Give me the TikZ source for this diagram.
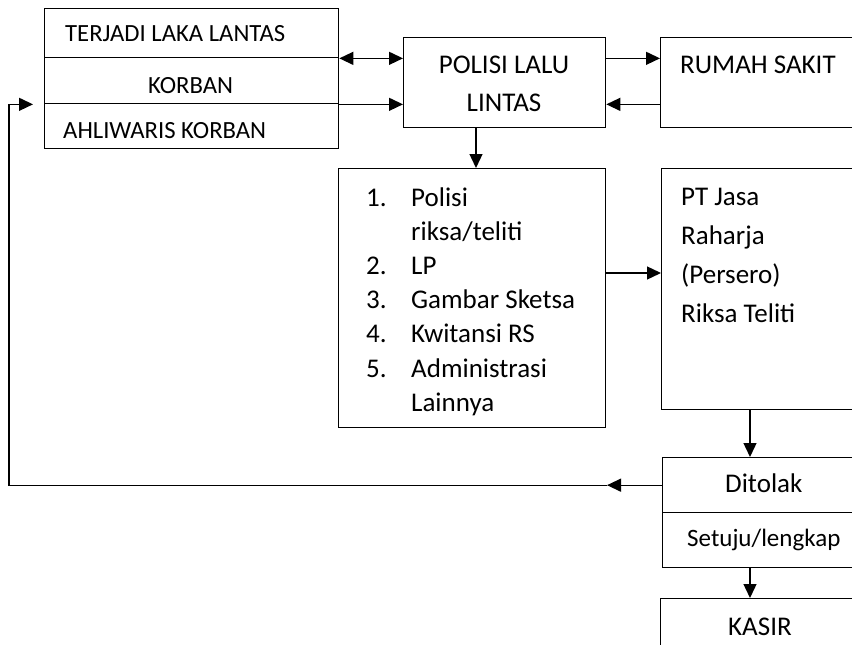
\documentclass[tikz,border=0pt]{standalone}
\usepackage{fontspec}
\setmainfont{Carlito}
\usetikzlibrary{arrows.meta}
\begin{document}
\begin{tikzpicture}[x=1pt,y=-1pt,
  bx/.style={draw, line width=1.35pt, inner sep=0pt, anchor=north west},
  tip/.style={},
  arr/.style={line width=1.35pt, -{Triangle[length=14pt,width=13pt]}},
  darr/.style={line width=1.35pt, {Triangle[length=14pt,width=13pt]}-{Triangle[length=14pt,width=13pt]}},
  fnt/.style={font=\fontsize{27}{27}\selectfont},
  tl/.style={inner sep=0pt, anchor=base west, fnt},
  tc/.style={inner sep=0pt, anchor=base, fnt},
  ts/.style={inner sep=0pt, anchor=base west, font=\fontsize{24.7}{24.7}\selectfont}
]
\useasboundingbox (0,0) rectangle (852,645);
\clip (0,0) rectangle (852,645);

% left stacked box
\node[bx, minimum width=294pt, minimum height=49pt] (r1) at (44,8) {};
\node[bx, minimum width=294pt, minimum height=46pt] (r2) at (44,57) {};
\node[bx, minimum width=294pt, minimum height=45pt] (r3) at (44,103) {};
\node[ts] (t1) at (65,41.7) {TERJADI LAKA LANTAS};
\node[ts] (t2) at (148,93.3) {KORBAN};
\node[ts] (t3) at (63,138.3) {AHLIWARIS KORBAN};

% police
\node[bx, minimum width=202pt, minimum height=90pt] (pol) at (403,37) {};
\node[tc] (p1) at (504,73.3) {POLISI LALU};
\node[tc] (p2) at (504,111.7) {LINTAS};

% hospital
\node[bx, minimum width=240pt, minimum height=90pt] (rs) at (660,37) {};
\node[tl] (rst) at (680,73.3) {RUMAH SAKIT};

% list box
\node[bx, minimum width=267pt, minimum height=259pt] (lst) at (338,168) {};
\node[tl] (n1) at (366,206) {1.};
\node[tl] (l1) at (411,206) {Polisi};
\node[tl] (l1b) at (411,240.2) {riksa/teliti};
\node[tl] (n2) at (366,274.4) {2.};
\node[tl] (l2) at (411,274.4) {LP};
\node[tl] (n3) at (366,308.6) {3.};
\node[tl] (l3) at (411,308.6) {Gambar Sketsa};
\node[tl] (n4) at (366,342.8) {4.};
\node[tl] (l4) at (411,342.8) {Kwitansi RS};
\node[tl] (n5) at (366,377) {5.};
\node[tl] (l5) at (411,377) {Administrasi};
\node[tl] (l5b) at (411,411.2) {Lainnya};

% PT Jasa Raharja
\node[bx, minimum width=240pt, minimum height=241pt] (pt) at (661,168) {};
\node[tl] (j1) at (681,205) {PT Jasa};
\node[tl] (j2) at (681,244) {Raharja};
\node[tl] (j3) at (681,283) {(Persero)};
\node[tl] (j4) at (681,322) {Riksa Teliti};

% decision boxes
\node[bx, minimum width=240pt, minimum height=55pt] (dit) at (662,457) {};
\node[bx, minimum width=240pt, minimum height=55pt] (set) at (662,512) {};
\node[tl] (dt) at (725,492.7) {Ditolak};
\node[inner sep=0pt, anchor=base west, font=\fontsize{25}{25}\selectfont] (st) at (687,546.7) {Setuju/lengkap};

% cashier
\node[bx, minimum width=240pt, minimum height=120pt] (kas) at (660,598) {};
\node[tl] (kt) at (728,635) {KASIR};

% helper coordinates
\coordinate (ax1) at (476,0);
\coordinate (ax2) at (750,0);
\coordinate (ay) at (0,273);
\coordinate (fbtip) at (607,0);
\coordinate (fbc) at (9,0);
\coordinate (fbend) at (33,0);

% connectors
\draw[darr] (r1.south east) -- (pol.west |- r1.south east);
\draw[arr] (r2.south east) -- (pol.west |- r2.south east);
\draw[arr] (pol.east |- r1.south east) -- (rs.west |- r1.south east);
\draw[arr] (rs.west |- r2.south east) -- (pol.east |- r2.south east);
\draw[arr] (pol.south -| ax1) -- (lst.north -| ax1);
\draw[arr] (lst.east |- ay) -- (pt.west |- ay);
\draw[arr] (pt.south -| ax2) -- (dit.north -| ax2);
\draw[arr] (set.south -| ax2) -- (kas.north -| ax2);
\draw[arr] (dit.west) -- (dit.west -| fbtip);
\draw[arr, line join=miter] (dit.west -| fbtip) -- (dit.west -| fbc) |- (r2.south -| fbend);
\end{tikzpicture}
\end{document}
